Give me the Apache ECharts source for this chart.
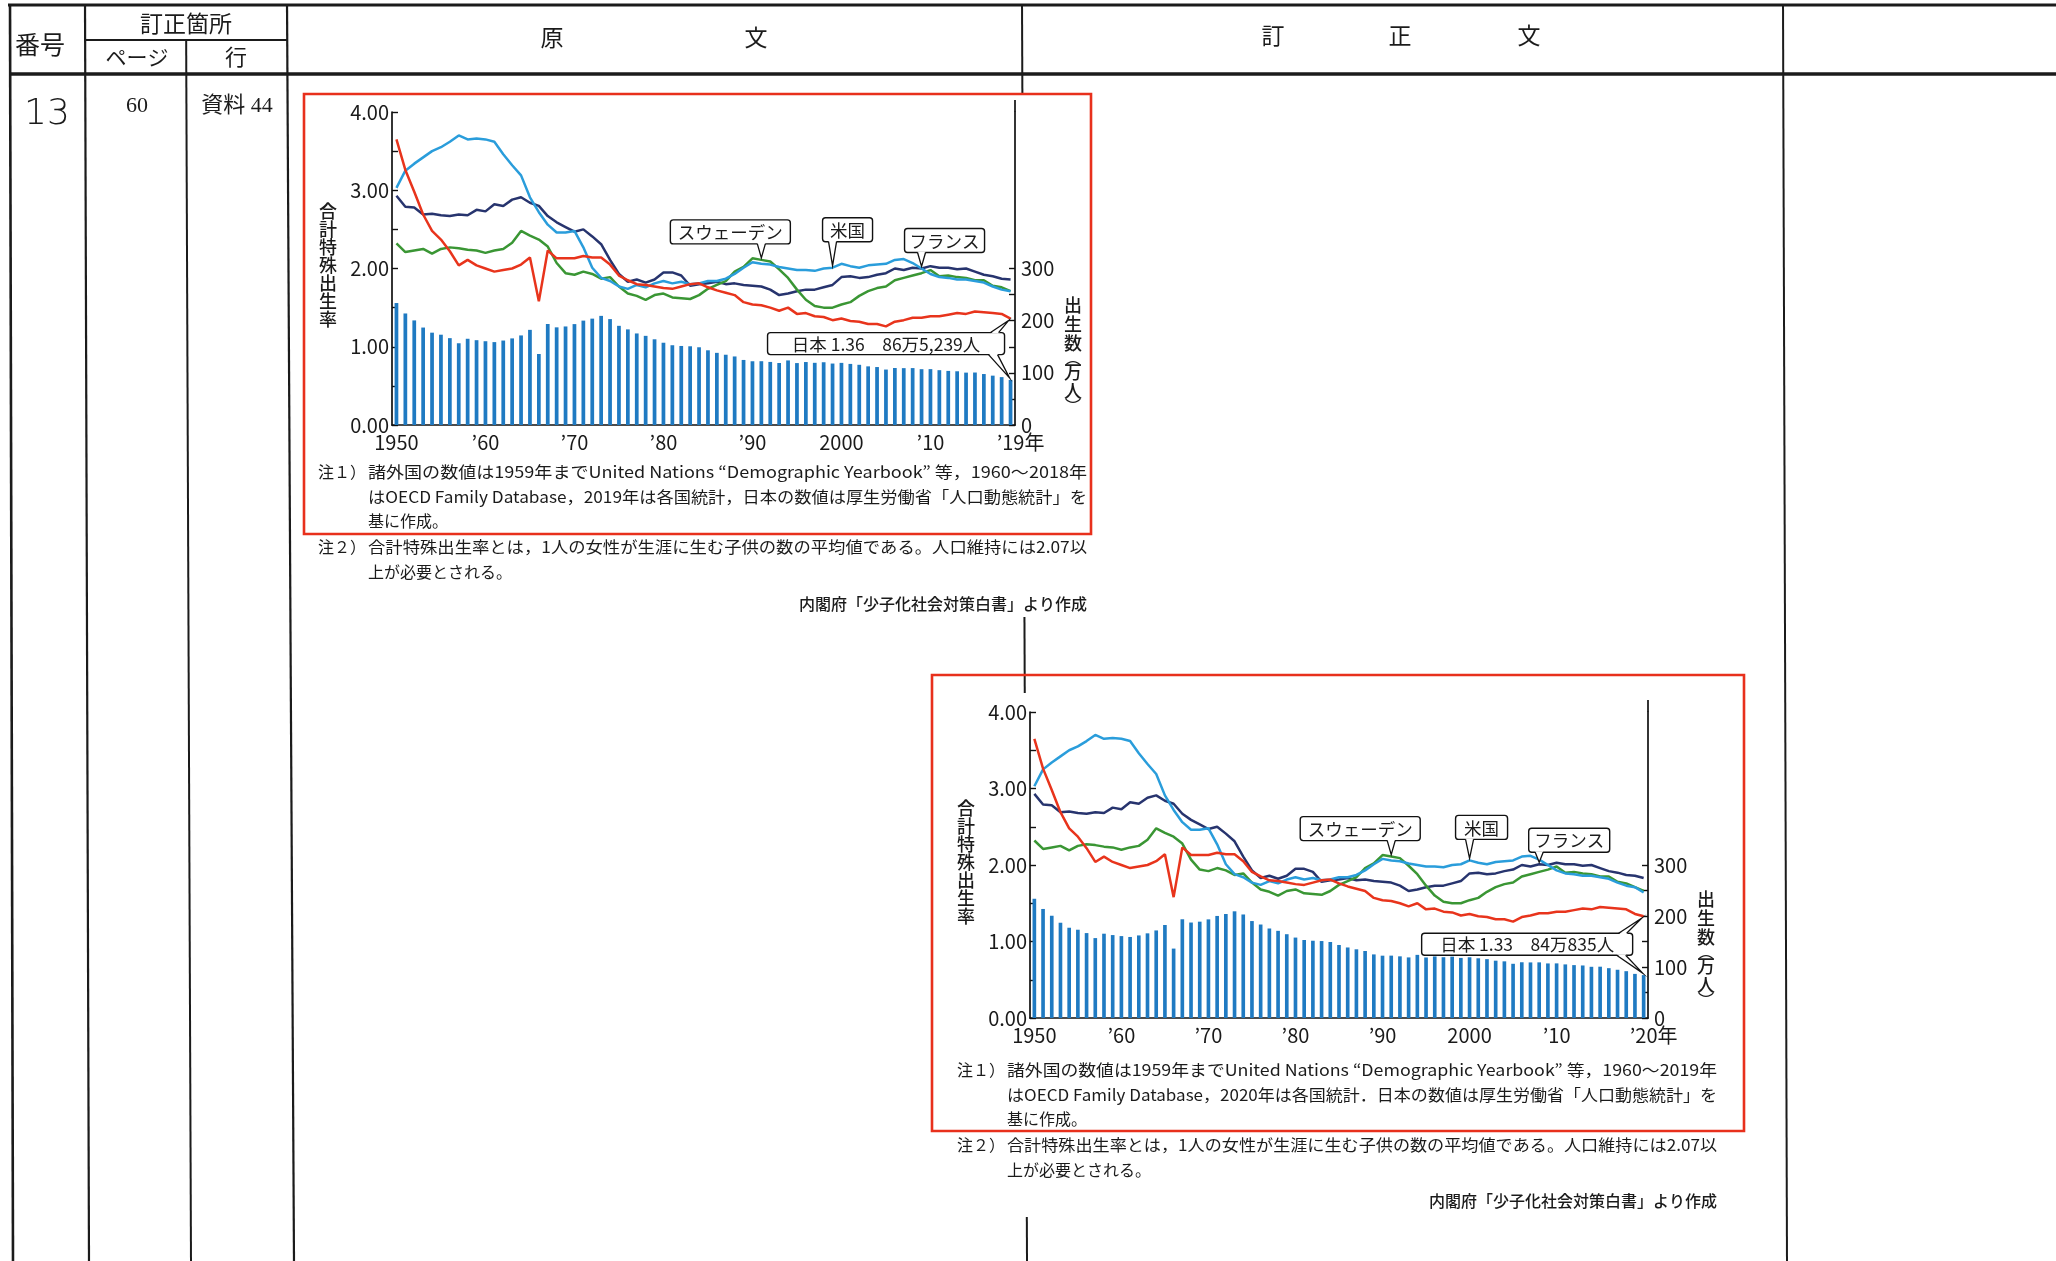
<!DOCTYPE html>
<html><head><meta charset="utf-8">
<script src="https://cdn.jsdelivr.net/npm/echarts@6/dist/echarts.min.js"></script>
<style>html,body{margin:0;padding:0;background:#fff}#c{width:2056px;height:1261px}</style>
</head><body><div id="c"></div>
<script>
// ---------- data ----------
const years = ['1950','1951','1952','1953','1954','1955','1956','1957','1958','1959',
'1960','1961','1962','1963','1964','1965','1966','1967','1968','1969',
'1970','1971','1972','1973','1974','1975','1976','1977','1978','1979',
'1980','1981','1982','1983','1984','1985','1986','1987','1988','1989',
'1990','1991','1992','1993','1994','1995','1996','1997','1998','1999',
'2000','2001','2002','2003','2004','2005','2006','2007','2008','2009',
'2010','2011','2012','2013','2014','2015','2016','2017','2018','2019','2020'];
// Japan births (万人)
const japanBirths = [233.8,213.8,200.5,186.8,177.0,173.1,166.5,156.7,165.3,162.6,
160.6,158.9,161.9,166.0,171.7,182.4,136.1,193.6,187.2,188.9,
193.4,200.1,203.9,209.2,203.0,190.1,183.3,175.5,170.9,164.3,
157.7,152.9,151.5,150.9,149.0,143.2,138.3,134.7,131.4,124.7,
122.2,122.3,120.9,118.8,123.8,118.7,120.7,119.2,120.3,117.8,
119.1,117.1,115.4,112.4,111.1,106.3,109.3,109.0,109.1,107.0,
107.1,105.1,103.7,103.0,100.4,100.6,97.7,94.6,91.8,86.5,84.1];
const japanTFR = [3.65,3.26,2.98,2.69,2.48,2.37,2.22,2.04,2.11,2.04,
2.00,1.96,1.98,2.00,2.05,2.14,1.58,2.23,2.13,2.13,
2.13,2.16,2.14,2.14,2.05,1.91,1.85,1.80,1.79,1.77,
1.75,1.74,1.77,1.80,1.81,1.76,1.72,1.69,1.66,1.57,
1.54,1.53,1.50,1.46,1.50,1.42,1.43,1.39,1.38,1.34,
1.36,1.33,1.32,1.29,1.29,1.26,1.32,1.34,1.37,1.37,
1.39,1.39,1.41,1.43,1.42,1.45,1.44,1.43,1.42,1.36,1.33];
const usaTFR = [3.03,3.25,3.34,3.42,3.50,3.55,3.62,3.70,3.65,3.66,
3.65,3.62,3.46,3.32,3.19,2.91,2.72,2.56,2.46,2.46,
2.48,2.27,2.01,1.88,1.84,1.77,1.74,1.79,1.76,1.81,
1.84,1.81,1.83,1.80,1.81,1.84,1.84,1.87,1.93,2.01,
2.08,2.06,2.05,2.02,2.00,1.98,1.98,1.97,2.00,2.01,
2.06,2.03,2.01,2.04,2.05,2.06,2.11,2.12,2.07,2.00,
1.93,1.89,1.88,1.86,1.86,1.84,1.82,1.77,1.73,1.71,1.64];
const franceTFR = [2.93,2.79,2.78,2.69,2.70,2.68,2.67,2.69,2.68,2.75,
2.73,2.82,2.80,2.88,2.91,2.84,2.80,2.67,2.59,2.53,
2.47,2.50,2.41,2.31,2.11,1.93,1.83,1.86,1.82,1.86,
1.95,1.95,1.91,1.78,1.80,1.81,1.83,1.80,1.81,1.79,
1.78,1.77,1.73,1.66,1.68,1.71,1.73,1.73,1.76,1.79,
1.89,1.90,1.88,1.89,1.92,1.94,2.00,1.98,2.01,2.00,
2.03,2.01,2.01,1.99,2.00,1.96,1.92,1.90,1.87,1.86,1.83];
const swedenTFR = [2.32,2.21,2.23,2.25,2.19,2.25,2.27,2.26,2.24,2.23,
2.20,2.23,2.25,2.33,2.48,2.42,2.37,2.28,2.07,1.94,
1.92,1.96,1.93,1.87,1.89,1.77,1.68,1.65,1.60,1.66,
1.68,1.63,1.62,1.61,1.66,1.74,1.79,1.84,1.96,2.02,
2.13,2.11,2.09,1.99,1.88,1.73,1.60,1.52,1.50,1.50,
1.54,1.57,1.65,1.71,1.75,1.77,1.85,1.88,1.91,1.94,
1.98,1.90,1.91,1.89,1.88,1.85,1.85,1.78,1.76,1.71,1.66];
const rateLabels = [0,1,2,3,4];
const rateTicks = [0,0.5,1,1.5,2,2.5,3,3.5,4];
const birthLabels = [0,100,200,300];
const birthTicks = [0,50,100,150,200,250,300];

const noteTexts1 = [
 '諸外国の数値は1959年までUnited Nations “Demographic Yearbook” 等，1960～2018年',
 'はOECD Family Database，2019年は各国統計，日本の数値は厚生労働省「人口動態統計」を',
 '基に作成。'];
const noteTexts2 = [
 '諸外国の数値は1959年までUnited Nations “Demographic Yearbook” 等，1960～2019年',
 'はOECD Family Database，2020年は各国統計．日本の数値は厚生労働省「人口動態統計」を',
 '基に作成。'];
const note2Texts = ['合計特殊出生率とは，1人の女性が生涯に生む子供の数の平均値である。人口維持には2.07以','上が必要とされる。'];
const sourceText = '内閣府「少子化社会対策白書」より作成';

// ---------- layout ----------
const FONT = "'Noto Sans CJK JP','Noto Sans',sans-serif";
const COL = {usa:'#2a9ddb', france:'#27346e', sweden:'#3a9634', japan:'#e8341c', bar:'#1f7ac2'};
const TICKFS = 20;
const panels = [
 {n:70, grid:{left:392, top:112, width:623, height:313}, box:[304,94,1091,534],
  japanText:'日本 1.36　86万5,239人', notes:noteTexts1,
  textX:368, textR:1087, noteY:472, note2Y:547, srcY:604, prefixX:318,
  callouts:{sweden:{yr:1991,dx:-31,dy:-16,w:120}, usa:{yr:1999,dx:15,dy:-26,w:50}, france:{yr:2009,dx:23,dy:-16,w:80},
            japan:{w:237, rdx:-6, tdy:14}}},
 {n:71, grid:{left:1030, top:712, width:618, height:306}, box:[932,675,1744,1131],
  japanText:'日本 1.33　84万835人', notes:noteTexts2,
  textX:1007, textR:1717, noteY:1070, note2Y:1145, srcY:1201, prefixX:957,
  callouts:{sweden:{yr:1991,dx:-31,dy:-16,w:120}, usa:{yr:2000,dx:12,dy:-21,w:52}, france:{yr:2008,dx:30,dy:-12,w:81},
            japan:{w:211, rdx:-11, tdy:17}}}
];

const chart = echarts.init(document.getElementById('c'), null, {renderer:'canvas'});

const grids=[], xAxes=[], yAxes=[], series=[];
panels.forEach((p,k)=>{
  grids.push(Object.assign({containLabel:false}, p.grid));
  const cats = years.slice(0,p.n);
  xAxes.push({type:'category', gridIndex:k, data:cats, boundaryGap:true,
    axisLine:{lineStyle:{color:'#111', width:1.7}},
    axisTick:{show:true, inside:true, length:5, alignWithLabel:true, lineStyle:{color:'#111', width:1.7},
      interval:(i,v)=> (+v)%10===0},
    axisLabel:{color:'#1a1a1a', fontFamily:FONT, fontSize:TICKFS, margin:7,
      interval:(i,v)=> (+v)%10===0 || i===p.n-1,
      formatter:(v,i)=>{ if(i===p.n-1) return '\u2003’'+v.slice(2)+'年';
        if(v==='1950'||v==='2000') return v; return '’'+v.slice(2);} }
  });
  yAxes.push({type:'value', gridIndex:k, position:'left', min:0, max:4, interval:0.5,
    splitLine:{show:false},
    axisLine:{show:true, lineStyle:{color:'#111', width:1.7}},
    axisTick:{show:true, inside:true, length:6, customValues:rateTicks, lineStyle:{color:'#111', width:1.4}},
    axisLabel:{color:'#1a1a1a', fontFamily:FONT, fontSize:TICKFS, margin:3, customValues:rateLabels,
      formatter:v=>v.toFixed(2)}
  });
  yAxes.push({type:'value', gridIndex:k, position:'right', min:0, max:600, interval:50,
    splitLine:{show:false},
    axisLine:{show:true, lineStyle:{color:'#111', width:1.7}},
    axisTick:{show:true, inside:true, length:6, customValues:birthTicks, lineStyle:{color:'#111', width:1.4}},
    axisLabel:{color:'#1a1a1a', fontFamily:FONT, fontSize:TICKFS, margin:6, customValues:birthLabels}
  });
  const ly = k*2, ry = k*2+1;
  series.push({type:'bar', xAxisIndex:k, yAxisIndex:ry, data:japanBirths.slice(0,p.n), barWidth:'42%',
    itemStyle:{color:COL.bar}, silent:true, z:1});
  const ln = (d,c)=>({type:'line', xAxisIndex:k, yAxisIndex:ly, data:d.slice(0,p.n), showSymbol:false, silent:true,
    lineStyle:{color:c, width:2.5}, z:3});
  series.push(ln(franceTFR,COL.france), ln(swedenTFR,COL.sweden), ln(usaTFR,COL.usa), ln(japanTFR,COL.japan));
});

chart.setOption({backgroundColor:'#fff', animation:false, grid:grids, xAxis:xAxes, yAxis:yAxes, series:series});

// ---------- graphics ----------
const G = [];
const ink = '#1b1b1b';
function line(x1,y1,x2,y2,w,c){ G.push({type:'line', silent:true, z:-1, shape:{x1,y1,x2,y2}, style:{stroke:c||ink, lineWidth:w||2}}); }
function txt(t,x,y,size,opt){ opt=opt||{}; G.push({type:'text', silent:true, z:opt.z||5, x:x, y:y, scaleX:opt.sx||1,
  style:{text:t, x:0, y:0, font:(opt.weight||'normal')+' '+size+'px '+(opt.family||FONT), fill:opt.fill||ink,
  textAlign:opt.align||'center', textVerticalAlign:opt.va||'middle', lineHeight:opt.lh, rich:opt.rich}}); }
const skew = (xt,xb,y)=> xt+(xb-xt)*y/1261;
function vline(xt,xb,y1,y2,w){ line(skew(xt,xb,y1),y1,skew(xt,xb,y2),y2,w); }

// table
line(8,5,2056,5,3);
line(10,74,2056,74,3.5);
vline(10,13,5,1261,2.6);
vline(85,89,5,1261,2.2);
line(85,40,287,40,2);
vline(186,191,40,1261,2);
vline(287,294,5,1261,2.2);
vline(1022,1027,5,94,2);
vline(1022,1027,617,693,2);
vline(1022,1027,1217,1261,2);
vline(1783,1787,5,1261,2);
const TF = "'Noto Sans CJK JP',sans-serif";
txt('番号',40,44,25,{family:TF});
txt('訂正箇所',186,23,23,{family:TF});
txt('ページ',137,57,21,{family:TF});
txt('行',236,57,22,{family:TF});
txt('原',552,37,23,{family:TF});
txt('文',756,37,23,{family:TF});
txt('訂',1273,35,23,{family:TF});
txt('正',1400,35,23,{family:TF});
txt('文',1529,35,23,{family:TF});
txt('13',47,115,36,{family:"'DejaVu Sans',sans-serif", weight:'200'});
txt('60',137,106,22,{family:"'Liberation Serif',serif"});
txt('資料 44',237,106,22,{family:"'Liberation Serif','Noto Sans CJK JP',serif"});

const mctx = document.createElement('canvas').getContext('2d');
function tw(t,font){ mctx.font=font; return mctx.measureText(t).width; }

panels.forEach((p,k)=>{
  const b=p.box;
  G.push({type:'rect', silent:true, z:4, shape:{x:b[0],y:b[1],width:b[2]-b[0],height:b[3]-b[1]},
    style:{fill:null, stroke:'#e8301c', lineWidth:2.6}});
  const g=p.grid, gr=g.left+g.width, gb=g.top+g.height;
  // right axis extension above top
  line(gr,g.top-12,gr,g.top,1.7,'#111');
  // axis names
  txt('合\n計\n特\n殊\n出\n生\n率', g.left-64, g.top+g.height*0.49, 18, {lh:18, weight:'500'});
  G.push({type:'text', silent:true, z:5, x:gr+58, y:g.top+g.height*0.77,
    style:{text:'{c|出}\n{c|生}\n{c|数}\n{p|︵}\n{c|万}\n{c|人}\n{p|︶}', x:0, y:0, font:'18px '+FONT, fill:ink,
      textAlign:'center', textVerticalAlign:'middle',
      rich:{c:{fontSize:18, lineHeight:19, fontFamily:FONT, fontWeight:500}, p:{fontSize:16, lineHeight:10, fontFamily:FONT}}}});
  // notes
  const fs=16, font=fs+'px '+FONT, W=p.textR-p.textX, LH=24.5;
  txt('注１）', p.prefixX, p.noteY, fs, {align:'left'});
  p.notes.forEach((t,i)=>{
    const sx = i<2 ? W/tw(t,font) : 1;
    txt(t, p.textX, p.noteY+i*LH, fs, {align:'left', sx:sx});
  });
  txt('注２）', p.prefixX, p.note2Y, fs, {align:'left'});
  note2Texts.forEach((t,i)=>{
    const sx = i<1 ? W/tw(t,font) : 1;
    txt(t, p.textX, p.note2Y+i*LH, fs, {align:'left', sx:sx});
  });
  txt(sourceText, p.textR, p.srcY, 16, {align:'right', weight:'500'});

  // callouts
  const s0 = k*5; // bar series index
  const idx = {france:s0+1, sweden:s0+2, usa:s0+3, japan:s0+4};
  const dataOf = {france:franceTFR, sweden:swedenTFR, usa:usaTFR};
  const names = {sweden:'スウェーデン', usa:'米国', france:'フランス'};
  ['sweden','usa','france'].forEach(key=>{
    const c=p.callouts[key], i=c.yr-1950;
    const pt = chart.convertToPixel({seriesIndex:idx[key]}, [i, dataOf[key][i]]);
    const cx=pt[0]+c.dx, bot=pt[1]+c.dy, h=24, top=bot-h;
    G.push({type:'rect', silent:true, z:20, shape:{x:cx-c.w/2, y:top, width:c.w, height:h, r:3},
      style:{fill:'#fff', stroke:'#111', lineWidth:1.4}});
    const tx = Math.min(Math.max(pt[0], cx-c.w/2+8), cx+c.w/2-8);
    G.push({type:'polygon', silent:true, z:21, shape:{points:[[tx-4,bot-1],[pt[0],pt[1]-2],[tx+4,bot-1]]}, style:{fill:'#fff'}});
    G.push({type:'polyline', silent:true, z:22, shape:{points:[[tx-4,bot],[pt[0],pt[1]-2],[tx+4,bot]]}, style:{fill:null, stroke:'#111', lineWidth:1.3}});
    txt(names[key], cx, top+h/2+0.5, 17.5, {z:23});
  });
  // Japan
  const n=p.n-1, jc=p.callouts.japan;
  const pr = chart.convertToPixel({seriesIndex:idx.japan}, [n, japanTFR[n]]);
  const pb = chart.convertToPixel({seriesIndex:s0}, [n, japanBirths[n]]);
  const right = pr[0]+jc.rdx, top = pr[1]+jc.tdy, h=22, left=right-jc.w;
  G.push({type:'rect', silent:true, z:20, shape:{x:left, y:top, width:jc.w, height:h, r:3},
    style:{fill:'#fff', stroke:'#111', lineWidth:1.4}});
  G.push({type:'polygon', silent:true, z:21, shape:{points:[[right-14,top+1],[pr[0]-2,pr[1]+2],[right-6,top+1]]}, style:{fill:'#fff'}});
  G.push({type:'polyline', silent:true, z:22, shape:{points:[[right-14,top],[pr[0]-2,pr[1]+2],[right-6,top]]}, style:{fill:null, stroke:'#111', lineWidth:1.3}});
  G.push({type:'polygon', silent:true, z:21, shape:{points:[[right-16,top+h-1],[pb[0]-1,pb[1]-2],[right-7,top+h-1]]}, style:{fill:'#fff'}});
  G.push({type:'polyline', silent:true, z:22, shape:{points:[[right-16,top+h],[pb[0]-1,pb[1]-2],[right-7,top+h]]}, style:{fill:null, stroke:'#111', lineWidth:1.3}});
  txt(p.japanText, left+jc.w/2, top+h/2+0.5, 17.5, {z:23});
});

chart.setOption({graphic:{elements:G}});
</script></body></html>
